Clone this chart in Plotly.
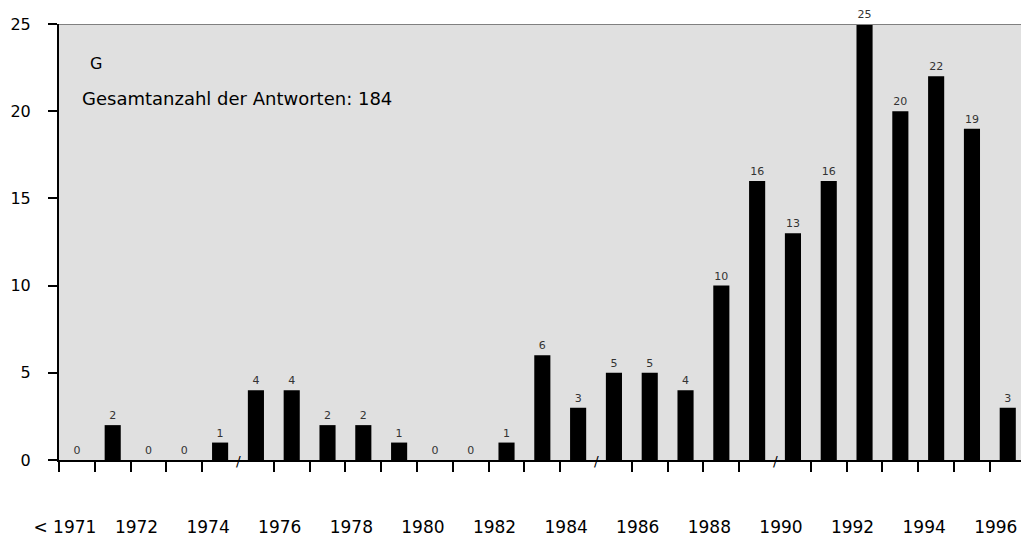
import plotly.graph_objects as go

categories = ["< 1971"] + [str(y) for y in range(1971, 1997)]
answers = [0, 2, 0, 0, 1, 4, 4, 2, 2, 1, 0, 0, 1, 6, 3, 5, 5, 4, 10, 16, 13, 16, 25, 20, 22, 19, 3]
shown_labels = ["< 1971", "1972", "1974", "1976", "1978", "1980", "1982", "1984",
                "1986", "1988", "1990", "1992", "1994", "1996"]
break_after = ["1974", "1984", "1989"]  # axis breaks drawn as "/"
total = 184

pos = list(range(len(categories)))
label_pos = [categories.index(c) for c in shown_labels]
break_pos = [categories.index(c) + 0.5 for c in break_after]
boundaries = [p - 0.5 for p in pos if (p - 0.5) not in break_pos]

fig = go.Figure()
fig.add_trace(go.Bar(
    x=pos, y=answers, width=0.45, marker=dict(color="black", line=dict(width=0)),
    text=[str(v) for v in answers], textposition="outside",
    textfont=dict(size=11, color="#333333", family="DejaVu Sans"),
    cliponaxis=False, showlegend=False,
))

for b in break_pos:
    fig.add_annotation(x=b, y=0, xref="x", yref="y", text="/", showarrow=False,
                       yanchor="middle", yshift=-1, font=dict(size=14, color="black"))

fig.add_annotation(x=0.03, y=0.91, xref="paper", yref="paper", text="G", showarrow=False,
                   xanchor="left", yanchor="middle", font=dict(size=16))
fig.add_annotation(x=0.022, y=0.828, xref="paper", yref="paper",
                   text=f"Gesamtanzahl der Antworten: {total}", showarrow=False,
                   xanchor="left", yanchor="middle", font=dict(size=18))

fig.add_shape(type="line", xref="paper", yref="y", x0=0, x1=1, y0=25, y1=25,
              line=dict(color="#808080", width=2))

fig.update_layout(
    width=1021, height=539,
    margin=dict(l=59, r=0, t=24, b=79),
    paper_bgcolor="white", plot_bgcolor="#e0e0e0",
    font=dict(family="DejaVu Sans", color="black", size=15),
    xaxis=dict(
        range=[-0.5, 26.37], tickmode="array", tickvals=label_pos, ticktext=shown_labels,
        ticks="", showgrid=False, zeroline=False, tickfont=dict(size=17),
        showline=True, linecolor="black", linewidth=2, automargin=False,
        ticklabelstandoff=51, ticklabelshift=-12,
        minor=dict(tickmode="array", tickvals=boundaries, ticks="outside",
                   ticklen=10, tickwidth=2, tickcolor="black", showgrid=False),
    ),
    yaxis=dict(
        range=[0, 25], tickvals=[0, 5, 10, 15, 20, 25], ticks="outside",
        ticklen=9, tickwidth=2, tickcolor="black", showgrid=False, zeroline=False,
        showline=True, linecolor="black", linewidth=2, ticklabelstandoff=14,
        tickfont=dict(size=16), automargin=False,
    ),
)

fig.write_html("out.html", config={"displayModeBar": False},
               post_script="document.body.style.margin = '0';")
